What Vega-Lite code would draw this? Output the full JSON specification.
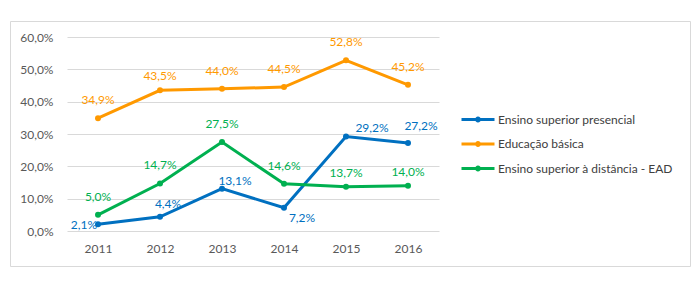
{
  "$schema": "https://vega.github.io/schema/vega-lite/v6.json",
  "width": 680,
  "height": 245,
  "autosize": "none",
  "padding": {"left": 10, "top": 21, "right": 10, "bottom": 29},
  "background": "white",
  "config": {
    "locale": {"number": {"decimal": ",", "thousands": ".", "grouping": [3], "currency": ["R$", ""]}},
    "view": {"stroke": "#d9d9d9", "strokeWidth": 1, "fill": "white"},
    "font": "Lato",
    "text": {"fontSize": 12}
  },
  "data": {
    "values": [
      {"series": "Ensino superior presencial", "year": 2011, "value": 0.021},
      {"series": "Ensino superior presencial", "year": 2012, "value": 0.044},
      {"series": "Ensino superior presencial", "year": 2013, "value": 0.131},
      {"series": "Ensino superior presencial", "year": 2014, "value": 0.072},
      {"series": "Ensino superior presencial", "year": 2015, "value": 0.292},
      {"series": "Ensino superior presencial", "year": 2016, "value": 0.272},
      {"series": "Educação básica", "year": 2011, "value": 0.349},
      {"series": "Educação básica", "year": 2012, "value": 0.435},
      {"series": "Educação básica", "year": 2013, "value": 0.440},
      {"series": "Educação básica", "year": 2014, "value": 0.445},
      {"series": "Educação básica", "year": 2015, "value": 0.528},
      {"series": "Educação básica", "year": 2016, "value": 0.452},
      {"series": "Ensino superior à distância - EAD", "year": 2011, "value": 0.050},
      {"series": "Ensino superior à distância - EAD", "year": 2012, "value": 0.147},
      {"series": "Ensino superior à distância - EAD", "year": 2013, "value": 0.275},
      {"series": "Ensino superior à distância - EAD", "year": 2014, "value": 0.146},
      {"series": "Ensino superior à distância - EAD", "year": 2015, "value": 0.137},
      {"series": "Ensino superior à distância - EAD", "year": 2016, "value": 0.140}
    ]
  },
  "encoding": {
    "x": {
      "field": "year", "type": "ordinal",
      "scale": {"type": "point", "padding": 0.5, "range": [57, 429]},
      "axis": {"title": null, "labelAngle": 0, "ticks": false, "domain": false, "grid": false,
               "labelColor": "#595959", "labelFontSize": 12, "labelPadding": 2, "offset": -25}
    },
    "y": {
      "field": "value", "type": "quantitative",
      "scale": {"domain": [0, 0.6], "range": [210, 16], "nice": false},
      "axis": {"title": null, "ticks": false, "domain": false, "grid": true, "gridColor": "#d9d9d9",
               "values": [0, 0.1, 0.2, 0.3, 0.4, 0.5, 0.6], "format": ".1%",
               "labelColor": "#595959", "labelFontSize": 12, "labelPadding": 2, "offset": -45}
    },
    "color": {
      "field": "series", "type": "nominal",
      "scale": {
        "domain": ["Ensino superior presencial", "Educação básica", "Ensino superior à distância - EAD"],
        "range": ["#0070C0", "#FF9900", "#00B050"]
      },
      "legend": {
        "title": null, "orient": "none", "legendX": 456.5, "legendY": 87,
        "padding": 0, "offset": 0, "rowPadding": 5.5,
        "symbolType": "M-1.65,0L1.65,0M0.15,0A0.15,0.15,0,1,1,-0.15,0A0.15,0.15,0,1,1,0.15,0Z",
        "symbolSize": 400, "symbolStrokeWidth": 3, "symbolOpacity": 1,
        "labelOffset": 8.5, "labelFontSize": 12, "labelColor": "#404040", "labelLimit": 300,
        "encode": {"symbols": {"update": {"fill": {"scale": "color", "field": "value"}, "stroke": {"scale": "color", "field": "value"}}}}
      }
    }
  },
  "layer": [
    {"mark": {"type": "line", "strokeWidth": 3}},
    {"mark": {"type": "point", "filled": true, "size": 36, "opacity": 1}},
    {
      "transform": [{"filter": "datum.series !== 'Ensino superior presencial' && !((datum.series === 'Educação básica' && datum.year === 2012) || (datum.series === 'Ensino superior à distância - EAD' && datum.year >= 2015))"}],
      "mark": {"type": "text", "dy": -18},
      "encoding": {"text": {"field": "value", "type": "quantitative", "format": ".1%"}}
    },
    {
      "transform": [{"filter": "(datum.series === 'Educação básica' && datum.year === 2012) || (datum.series === 'Ensino superior à distância - EAD' && datum.year >= 2015)"}],
      "mark": {"type": "text", "dy": -14},
      "encoding": {"text": {"field": "value", "type": "quantitative", "format": ".1%"}}
    },
    {
      "transform": [{"filter": "datum.series === 'Ensino superior presencial' && datum.year === 2011"}],
      "mark": {"type": "text", "align": "right", "dx": -1, "dy": 1},
      "encoding": {"text": {"field": "value", "type": "quantitative", "format": ".1%"}}
    },
    {
      "transform": [{"filter": "datum.series === 'Ensino superior presencial' && datum.year === 2012"}],
      "mark": {"type": "text", "dx": 8, "dy": -13},
      "encoding": {"text": {"field": "value", "type": "quantitative", "format": ".1%"}}
    },
    {
      "transform": [{"filter": "datum.series === 'Ensino superior presencial' && datum.year === 2013"}],
      "mark": {"type": "text", "dx": 13, "dy": -8},
      "encoding": {"text": {"field": "value", "type": "quantitative", "format": ".1%"}}
    },
    {
      "transform": [{"filter": "datum.series === 'Ensino superior presencial' && datum.year === 2014"}],
      "mark": {"type": "text", "dx": 18, "dy": 10},
      "encoding": {"text": {"field": "value", "type": "quantitative", "format": ".1%"}}
    },
    {
      "transform": [{"filter": "datum.series === 'Ensino superior presencial' && datum.year === 2015"}],
      "mark": {"type": "text", "dx": 26, "dy": -9},
      "encoding": {"text": {"field": "value", "type": "quantitative", "format": ".1%"}}
    },
    {
      "transform": [{"filter": "datum.series === 'Ensino superior presencial' && datum.year === 2016"}],
      "mark": {"type": "text", "dx": 13, "dy": -17},
      "encoding": {"text": {"field": "value", "type": "quantitative", "format": ".1%"}}
    }
  ]
}
